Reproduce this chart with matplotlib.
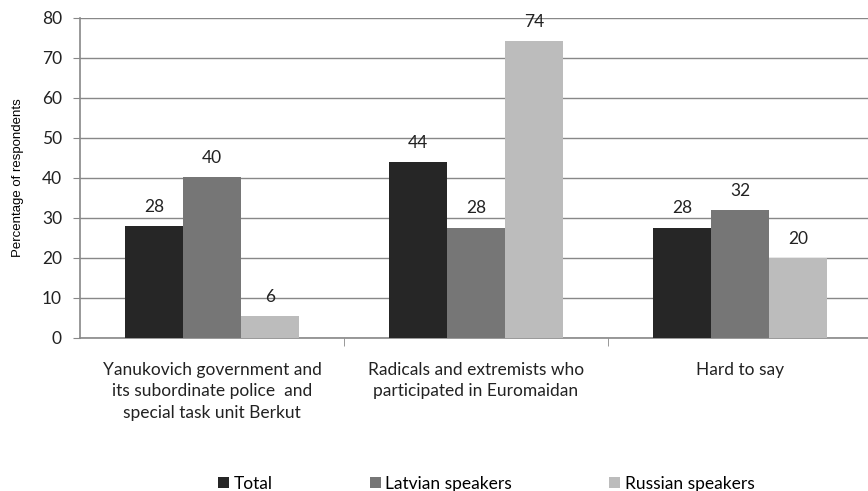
import numpy as np
import matplotlib
matplotlib.use("Agg")
import matplotlib.pyplot as plt

plt.rcParams['font.family'] = ['Lato', 'DejaVu Sans']

# ---------- data ----------
categories = [
    "Yanukovich government and\nits subordinate police  and\nspecial task unit Berkut",
    "Radicals and extremists who\nparticipated in Euromaidan",
    "Hard to say",
]
series_names = ["Total", "Latvian speakers", "Russian speakers"]
total = [28, 44, 27.6]
latvian = [40.3, 27.6, 32]
russian = [5.5, 74.3, 20]
labels_total = [28, 44, 28]
labels_latvian = [40, 28, 32]
labels_russian = [6, 74, 20]
colors = ["#262626", "#767676", "#bcbcbc"]

fig = plt.figure(figsize=(8.68, 4.91), dpi=100)
ax = fig.add_axes([80 / 868, 1 - 338 / 491, 1 - 80 / 868, (338 - 18) / 491])

x = np.arange(len(categories))
w = 0.22
values = [total, latvian, russian]
labels = [labels_total, labels_latvian, labels_russian]
for i, (vals, labs) in enumerate(zip(values, labels)):
    pos = x + (i - 1) * w
    ax.bar(pos, vals, width=w, color=colors[i], label=series_names[i], zorder=3)
    for p, v, lab in zip(pos, vals, labs):
        ax.annotate(str(lab), (p, v), xytext=(0, 8), textcoords="offset points",
                    ha="center", va="bottom", fontsize=12.5, color="#222222")

ax.set_ylim(0, 80)
ax.set_yticks(range(0, 81, 10))
ax.set_xlim(-0.5, 2.485)
ax.set_xticks([0.5, 1.5], minor=True)
ax.set_xticks(x)
ax.set_xticklabels(categories, fontsize=12.5, color="#222222", linespacing=1.45)
ax.tick_params(axis="x", which="major", length=0, pad=17)
ax.tick_params(axis="x", which="minor", length=6, color="#888888")
ax.tick_params(axis="y", length=5, color="#888888", labelsize=12.5, labelcolor="#222222", pad=8)
ax.yaxis.grid(True, color="#888888", linewidth=1, zorder=0)
for s in ["top", "right"]:
    ax.spines[s].set_visible(False)
for s in ["left", "bottom"]:
    ax.spines[s].set_color("#888888")
    ax.spines[s].set_linewidth(1.2)
ax.set_ylabel("Percentage of respondents", fontsize=9.5, family="Liberation Sans", labelpad=13)

fig.legend(loc="lower center", bbox_to_anchor=(0.56, -0.033), ncol=3, frameon=False,
           fontsize=12.5, handlelength=0.65, handleheight=0.65, handletextpad=0.25,
           columnspacing=5.6)

fig.savefig("out.png", dpi=100)
